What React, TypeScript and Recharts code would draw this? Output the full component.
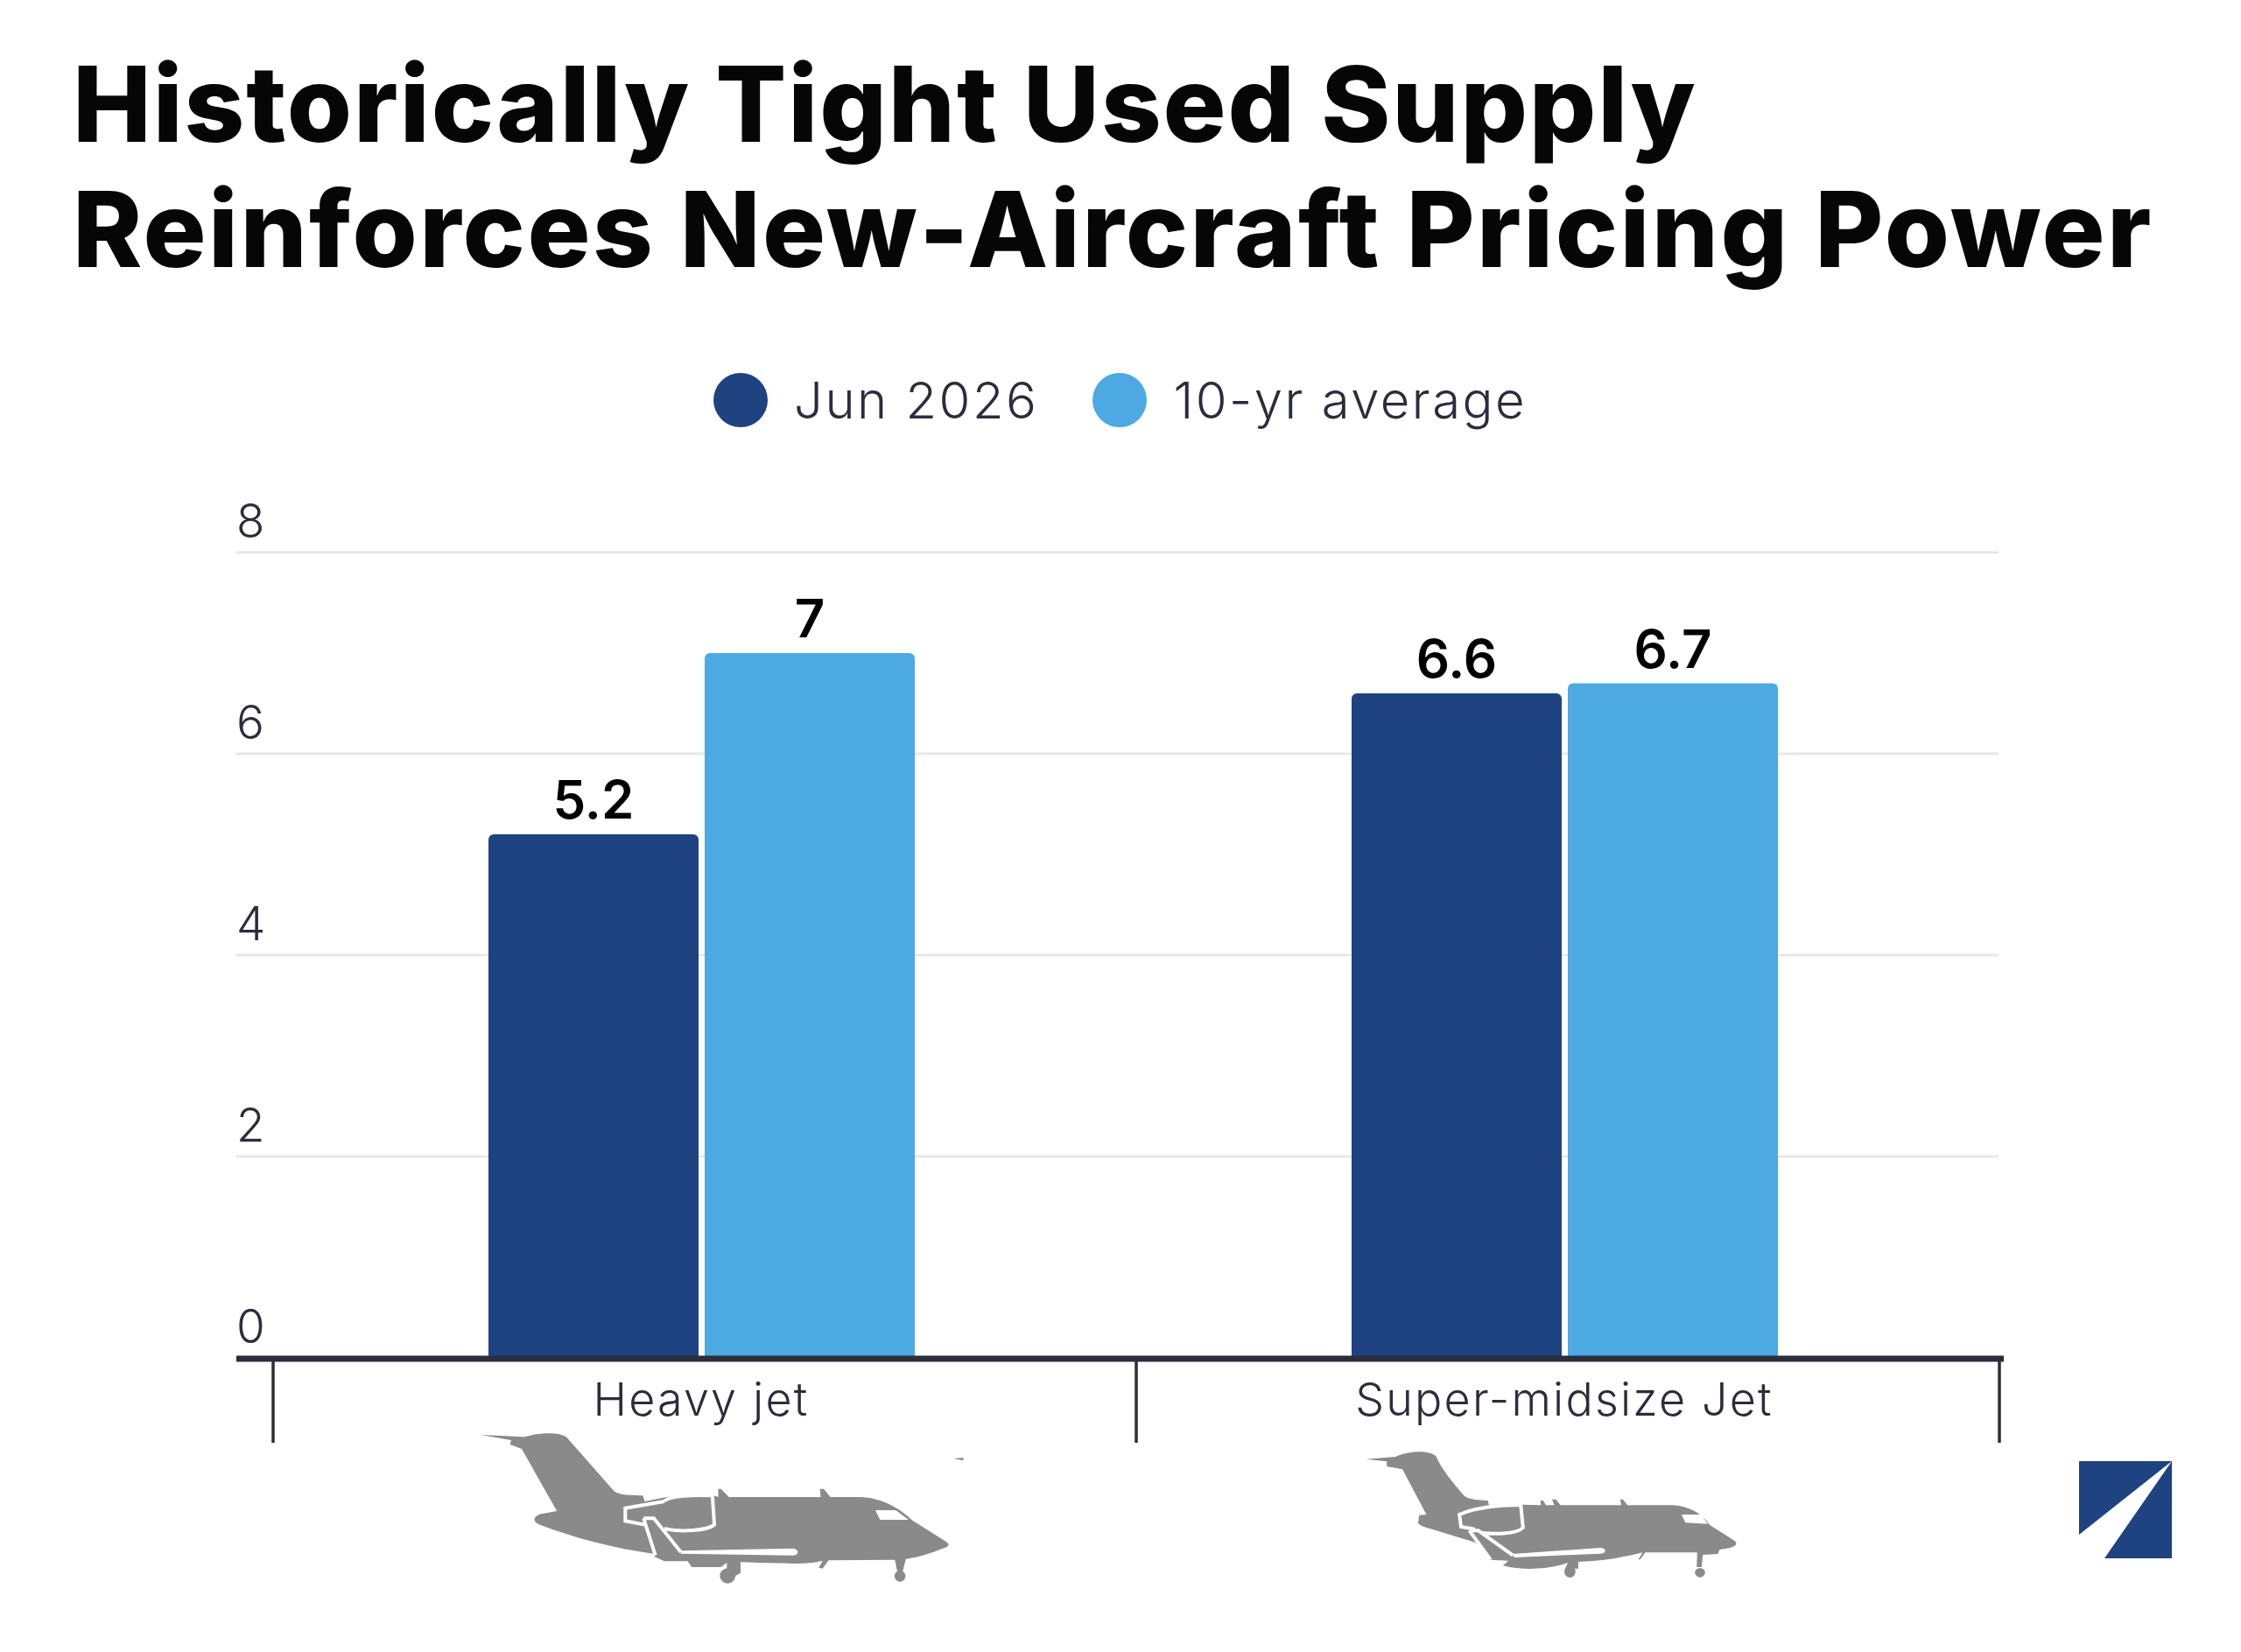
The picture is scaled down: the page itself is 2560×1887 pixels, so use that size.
import { Bar, BarChart, CartesianGrid, LabelList, Legend, XAxis, YAxis } from 'recharts';

const categories = ['Heavy jet', 'Super-midsize Jet'];
const jun2026 = [5.2, 6.6];
const tenYearAvg = [7, 6.7];
const yTicks = [0, 2, 4, 6, 8];

const chartData = categories.map((name, i) => ({
  name,
  jun: jun2026[i],
  avg: tenYearAvg[i]
}));

const W = 2560;
const H = 1887;
const PLOT_LEFT = 308;
const PLOT_RIGHT = 2280;
const PLOT_TOP = 631;
const PLOT_BOTTOM = 1551;
const BAND = (PLOT_RIGHT - PLOT_LEFT) / categories.length;
// the category dividers sit a few px right of the band edges
const DIVIDER_SHIFT = 4;

const NAVY = '#1f4280';
const SKY = '#4ca9e2';
const INK = '#2b2d3b';
const GRID = '#e8e8e8';
const PLANE = '#8a8a8a';
const FONT = 'Inter, "Noto Sans", sans-serif';

function YTick({ x, y, payload }: any) {
  return (
    <g>
      <line x1={270} x2={x} y1={y} y2={y} stroke={GRID} strokeWidth={3} />
      <line x1={PLOT_RIGHT} x2={2283} y1={y} y2={y} stroke={GRID} strokeWidth={3} />
      <text x={270} y={y - 17} fontFamily={FONT} fontSize={53} fontWeight={300} fill={INK}>
        {payload.value}
      </text>
    </g>
  );
}

function XTick({ x, payload, index }: any) {
  const left = x - BAND / 2 + DIVIDER_SHIFT;
  const right = x + BAND / 2 + DIVIDER_SHIFT;
  const last = index === categories.length - 1;
  return (
    <g>
      <line x1={left} x2={left} y1={PLOT_BOTTOM} y2={1648} stroke={INK} strokeWidth={3.5} />
      {last && <line x1={right} x2={right} y1={PLOT_BOTTOM} y2={1648} stroke={INK} strokeWidth={3.5} />}
      <text
        x={x}
        y={1617}
        textAnchor="middle"
        fontFamily={FONT}
        fontSize={52}
        fontWeight={300}
        letterSpacing={2.2}
        fill={INK}
      >
        {payload.value}
      </text>
    </g>
  );
}

function LegendRow({ payload }: any) {
  return (
    <div
      style={{
        display: 'flex',
        alignItems: 'center',
        fontFamily: FONT,
        fontWeight: 300,
        fontSize: 58,
        letterSpacing: 2.5,
        color: INK,
        whiteSpace: 'nowrap'
      }}
    >
      {(payload || []).map((item: any, i: number) => (
        <div key={item.value} style={{ display: 'flex', alignItems: 'center', marginLeft: i === 0 ? 0 : 62 }}>
          <span
            style={{ width: 62, height: 62, borderRadius: 31, background: item.color, marginRight: 30, display: 'inline-block' }}
          />
          <span>{item.value}</span>
        </div>
      ))}
    </div>
  );
}

function HeavyJet() {
  return (
    <g transform="translate(500,1600) scale(0.4464,0.3333)">
      <path
        fill={PLANE}
        d="M110,117 L222,124 C255,110 310,105 330,125 L445,300 C458,322 470,322 525,325 L530,345 L585,330 L700,322 L718,330 L718,302 L725,302 L745,330 L980,330 L978,302 L988,302 L1005,330 L1085,330 C1130,335 1170,355 1215,410 L1295,478 C1312,490 1310,500 1295,505 C1260,525 1225,538 1198,542 L1190,585 L1176,585 L1170,545 L1000,547 L985,575 L975,572 L985,548 C950,560 920,560 775,553 L775,590 L762,600 L730,590 L740,572 L740,555 L725,570 L650,570 L640,550 L580,550 L555,535 L555,525 C450,505 350,470 262,425 C240,415 245,395 265,388 L305,378 L215,165 L185,150 L188,135 Z"
      />
      <ellipse cx={742} cy={600} rx={20} ry={26} fill={PLANE} />
      <ellipse cx={1183} cy={601} rx={14} ry={19} fill={PLANE} />
      <path fill={PLANE} d="M1320,198 L1345,195 L1345,205 Z" />
      <path fill="#fff" d="M1120,375 L1172,375 L1205,408 L1132,408 Z" />
      <path
        fill="none"
        stroke="#fff"
        strokeWidth={4}
        vectorEffect="non-scaling-stroke"
        d="M580,345 L480,368 L480,412 L530,425 M580,345 C590,325 660,322 703,325 L708,425 C690,445 620,452 580,438 M527,403 L553,403 L622,518 M527,403 L557,530"
      />
      <path fill="#fff" d="M622,514 L908,506 C926,508 926,530 908,530 L622,524 Z" />
    </g>
  );
}

function MidJet() {
  return (
    <g transform="translate(1500,1600) scale(0.6378,0.3333)">
      <path
        fill={PLANE}
        d="M95,200 L148,192 C165,175 205,165 220,190 C230,235 250,280 270,325 C280,340 295,340 313,342 L315,358 L345,355 L408,358 L407,342 L412,342 L417,358 L432,358 L428,338 L435,338 L443,358 L552,358 L550,338 L555,338 L563,358 L645,358 C675,362 695,385 710,425 L755,480 C762,492 755,500 745,505 L728,510 L725,525 L698,528 L696,570 L687,570 L688,520 L595,520 L585,545 L583,543 L590,520 C550,540 510,550 475,552 L475,575 L452,575 L456,555 C430,575 380,585 340,565 L350,548 L318,545 L312,520 L290,485 L195,430 L188,420 L190,392 L203,390 L160,235 L132,225 L132,208 Z"
      />
      <ellipse cx={693} cy={589} rx={9} ry={16} fill={PLANE} />
      <ellipse cx={460} cy={585} rx={10} ry={21} fill={PLANE} />
      <path fill="#fff" d="M660,390 L695,390 L707,422 L667,418 Z" />
      <path
        fill="none"
        stroke="#fff"
        strokeWidth={4}
        vectorEffect="non-scaling-stroke"
        d="M290,440 L265,432 L262,390 C290,365 340,355 372,358 L376,435 C365,458 320,458 300,452 M280,445 L296,445 L358,530 M280,445 L318,545"
      />
      <path fill="#fff" d="M358,525 L515,504 C527,506 525,524 515,524 L360,537 Z" />
    </g>
  );
}

export default function App() {
  return (
    <div style={{ position: 'absolute', left: 0, top: 0, width: W, height: H, background: '#fff', overflow: 'hidden' }}>
      <div
        style={{
          position: 'absolute',
          left: 83,
          top: 47,
          fontFamily: FONT,
          fontWeight: 800,
          fontSize: 120,
          lineHeight: '143px',
          color: '#060606',
          whiteSpace: 'nowrap'
        }}
      >
        <div style={{ letterSpacing: 1.9 }}>Historically Tight Used Supply</div>
        <div style={{ letterSpacing: 2.4 }}>Reinforces New-Aircraft Pricing Power</div>
      </div>
      <BarChart
        width={W}
        height={H}
        data={chartData}
        margin={{ top: PLOT_TOP, right: W - PLOT_RIGHT, bottom: 0, left: 0 }}
        barCategoryGap={250}
        barGap={7}
        style={{ position: 'absolute', left: 0, top: 0 }}
      >
        <CartesianGrid horizontal vertical={false} stroke={GRID} strokeWidth={3} />
        <Legend
          layout="horizontal"
          verticalAlign="middle"
          align="center"
          itemSorter={null}
          content={<LegendRow />}
          wrapperStyle={{ position: 'absolute', left: 815, top: 422, width: 'auto' }}
        />
        <YAxis
          width={PLOT_LEFT}
          domain={[0, 8]}
          ticks={yTicks}
          axisLine={false}
          tickLine={false}
          tickSize={0}
          tickMargin={0}
          interval={0}
          tick={<YTick />}
        />
        <XAxis dataKey="name" axisLine={false} tickLine={false} interval={0} tick={<XTick />} height={H - PLOT_BOTTOM} />
        <Bar dataKey="jun" name="Jun 2026" fill={NAVY} radius={[6, 6, 0, 0]} isAnimationActive={false}>
          <LabelList dataKey="jun" position="top" offset={18} fill="#000" fontFamily={FONT} fontSize={60} fontWeight={600} />
        </Bar>
        <Bar dataKey="avg" name="10-yr average" fill={SKY} radius={[6, 6, 0, 0]} isAnimationActive={false}>
          <LabelList dataKey="avg" position="top" offset={18} fill="#000" fontFamily={FONT} fontSize={60} fontWeight={600} />
        </Bar>
      </BarChart>
      <svg width={W} height={H} style={{ position: 'absolute', left: 0, top: 0, pointerEvents: 'none' }}>
        {/* baseline runs past the plot on both sides, over the bar feet */}
        <line x1={270} x2={2289} y1={1552} y2={1552} stroke={INK} strokeWidth={7} />
        <HeavyJet />
        <MidJet />
        <rect x={2375} y={1669} width={106} height={111} fill={NAVY} />
        <polygon points="2481,1669 2375,1753 2375,1780 2404,1780" fill="#fff" />
      </svg>
    </div>
  );
}
